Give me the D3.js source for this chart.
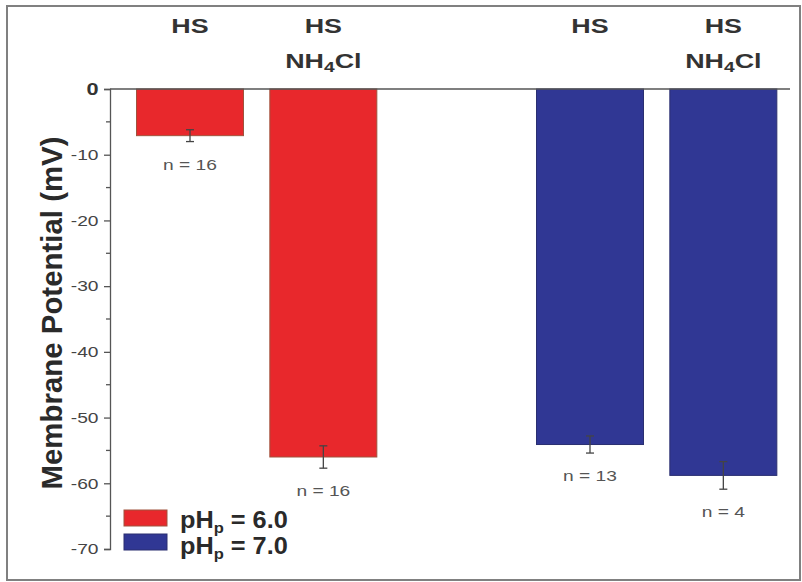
<!DOCTYPE html>
<html>
<head>
<meta charset="utf-8">
<script src="https://cdn.jsdelivr.net/npm/d3@7"></script>
<style>
  html, body { margin: 0; padding: 0; background: #fff; }
  svg { display: block; }
</style>
</head>
<body>
<svg id="chart" width="802" height="582"></svg>
<script>
// Membrane potential by condition, two periplasmic pH groups
const conditions = ["HS", "HS NH4Cl", "HS", "HS NH4Cl"];
const slots = [1, 2, 4, 5];
const groups = ["6.0", "6.0", "7.0", "7.0"];
const potentials = [-7.1, -56.0, -54.1, -58.8];
const errors = [0.9, 1.7, 1.3, 2.1];
const nLabels = ["n = 16", "n = 16", "n = 13", "n = 4"];
const yTicks = [0, -10, -20, -30, -40, -50, -60, -70];
const legendGroups = ["6.0", "7.0"];

const colors = { "6.0": "#e8282c", "7.0": "#303794" };
const strokes = { "6.0": "#a0523c", "7.0": "#2a2f70" };
const FONT = "Liberation Sans, Arial, Helvetica, sans-serif";
const WIDEN = 1.28; // horizontal stretch applied to the lettering

const svg = d3.select("#chart");

// outer frame
svg.append("rect")
  .attr("x", 7).attr("y", 6).attr("width", 793).attr("height", 574)
  .attr("fill", "none").attr("stroke", "#808080").attr("stroke-width", 2);

const x = d3.scaleLinear().domain([0.4, 5.5]).range([110, 790]);
const y = d3.scaleLinear().domain([0, -70]).range([89, 549]);
const barW = 107;

const data = conditions.map((c, i) => ({
  c, slot: slots[i], g: groups[i], v: potentials[i], e: errors[i], n: nLabels[i]
}));

// bars
svg.selectAll("rect.bar").data(data).enter().append("rect")
  .attr("class", "bar")
  .attr("x", d => x(d.slot) - barW / 2)
  .attr("y", y(0))
  .attr("width", barW)
  .attr("height", d => y(d.v) - y(0))
  .attr("fill", d => colors[d.g])
  .attr("stroke", d => strokes[d.g])
  .attr("stroke-width", 1);

// error bars
const eb = svg.selectAll("g.err").data(data).enter().append("g")
  .attr("class", "err")
  .attr("stroke", "#444").attr("stroke-width", 1.3);
eb.append("line")
  .attr("x1", d => x(d.slot)).attr("x2", d => x(d.slot))
  .attr("y1", d => y(d.v + d.e)).attr("y2", d => y(d.v - d.e));
eb.append("line")
  .attr("x1", d => x(d.slot) - 4).attr("x2", d => x(d.slot) + 4)
  .attr("y1", d => y(d.v + d.e)).attr("y2", d => y(d.v + d.e));
eb.append("line")
  .attr("x1", d => x(d.slot) - 4).attr("x2", d => x(d.slot) + 4)
  .attr("y1", d => y(d.v - d.e)).attr("y2", d => y(d.v - d.e));

// n labels below each bar
svg.selectAll("text.nlab").data(data).enter().append("text")
  .attr("class", "nlab")
  .attr("transform", d => `translate(${x(d.slot)},${y(d.v - d.e) + 28}) scale(${WIDEN},1)`)
  .attr("text-anchor", "middle")
  .attr("font-family", FONT)
  .attr("font-size", 15)
  .attr("fill", "#555")
  .text(d => d.n);

// zero line across the top
svg.append("line")
  .attr("x1", x.range()[0]).attr("x2", x.range()[1])
  .attr("y1", y(0)).attr("y2", y(0))
  .attr("stroke", "#555").attr("stroke-width", 1.3);

// y axis with minor ticks
const minor = d3.range(-5, -70, -10);
const yAxis = svg.append("g").attr("transform", `translate(${x.range()[0]},0)`);
yAxis.call(d3.axisLeft(y).tickValues(yTicks).tickSize(6).tickPadding(3).tickFormat(d3.format("d")));
yAxis.select(".domain").attr("stroke", "#555").attr("stroke-width", 1.3);
yAxis.selectAll(".tick line").attr("stroke", "#555").attr("stroke-width", 1.3);
yAxis.selectAll(".tick text")
  .attr("font-family", FONT)
  .attr("font-size", 15).attr("fill", "#444")
  .attr("transform", `scale(${WIDEN},1)`)
  .text(d => d === 0 ? "0" : "-" + Math.abs(d));
yAxis.selectAll(".tick").filter(d => d === 0).select("text")
  .attr("font-weight", "bold").attr("font-size", 17).attr("fill", "#333");
yAxis.selectAll("line.minor").data(minor).enter().append("line")
  .attr("class", "minor")
  .attr("x1", -4).attr("x2", 0)
  .attr("y1", d => y(d)).attr("y2", d => y(d))
  .attr("stroke", "#555").attr("stroke-width", 1.3);

// y title
svg.append("text")
  .attr("transform", "translate(62,313) rotate(-90)")
  .attr("text-anchor", "middle")
  .attr("font-family", FONT)
  .attr("font-weight", "bold").attr("font-size", 30).attr("fill", "#2a2a2a")
  .attr("textLength", 353).attr("lengthAdjust", "spacingAndGlyphs")
  .text("Membrane Potential (mV)");

// category headings above bars
const heads = svg.selectAll("g.head").data(data).enter().append("g")
  .attr("class", "head")
  .attr("transform", d => `translate(${x(d.slot)},0) scale(${WIDEN},1)`)
  .append("text")
  .attr("text-anchor", "middle")
  .attr("font-family", FONT)
  .attr("font-weight", "bold").attr("font-size", 21).attr("fill", "#333");
heads.append("tspan").attr("x", 0).attr("y", 33).text("HS");
heads.filter(d => d.c.includes("NH4Cl")).each(function() {
  const t = d3.select(this).append("tspan").attr("x", 0).attr("y", 68);
  t.append("tspan").text("NH");
  t.append("tspan").attr("font-size", 15).attr("dy", 4).text("4");
  t.append("tspan").attr("dy", -4).text("Cl");
});

// legend
const leg = svg.append("g").attr("transform", "translate(124,510)");
legendGroups.forEach((g, i) => {
  const row = leg.append("g").attr("transform", `translate(0,${i * 24})`);
  row.append("rect").attr("x", 0).attr("y", 0).attr("width", 43).attr("height", 16)
    .attr("fill", colors[g]).attr("stroke", strokes[g]).attr("stroke-width", 1);
  const t = row.append("text")
    .attr("transform", `translate(56,${18 + i * 2}) scale(1.1,1)`)
    .attr("font-family", FONT)
    .attr("font-weight", "bold").attr("font-size", 23).attr("fill", "#2a2a2a");
  t.append("tspan").text("pH");
  t.append("tspan").attr("font-size", 15).attr("dy", 5).text("p");
  t.append("tspan").attr("dy", -5).text(" = " + g);
});
</script>
</body>
</html>
